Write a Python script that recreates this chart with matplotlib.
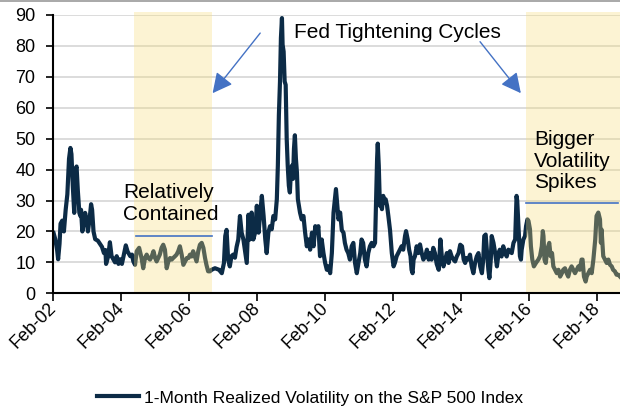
import matplotlib
matplotlib.use("Agg")
import matplotlib.dates as mdates
import matplotlib.pyplot as plt
import pandas as pd
from matplotlib import font_manager
from matplotlib.font_manager import FontProperties
from matplotlib.lines import Line2D


# 1-month realized volatility
DATES = [
    "2002-02-03", "2002-02-21", "2002-03-13", "2002-03-24", "2002-04-08", "2002-04-19",
    "2002-05-07", "2002-05-25", "2002-06-13", "2002-07-01", "2002-07-19", "2002-08-03",
    "2002-08-14", "2002-08-28", "2002-09-13", "2002-09-27", "2002-10-08", "2002-10-22",
    "2002-11-07", "2002-11-18", "2002-11-25", "2002-12-09", "2002-12-20", "2003-01-08",
    "2003-01-22", "2003-02-07", "2003-02-25", "2003-03-13", "2003-03-24", "2003-04-08",
    "2003-04-26", "2003-05-25", "2003-06-16", "2003-07-08", "2003-07-29", "2003-08-14",
    "2003-08-21", "2003-09-13", "2003-10-01", "2003-10-19", "2003-11-07", "2003-11-25",
    "2003-12-13", "2004-01-01", "2004-01-19", "2004-02-07", "2004-02-25", "2004-03-20",
    "2004-04-08", "2004-05-07", "2004-05-25",
    "2004-06-09", "2004-06-27", "2004-07-15", "2004-08-10", "2004-09-05", "2004-09-23",
    "2004-10-12", "2004-10-30", "2004-11-17", "2004-12-05", "2004-12-23", "2005-01-11",
    "2005-01-29", "2005-02-14", "2005-03-03", "2005-03-20", "2005-04-08", "2005-04-26",
    "2005-05-14", "2005-06-02", "2005-06-20", "2005-07-08", "2005-07-26", "2005-08-10",
    "2005-08-28", "2005-09-16", "2005-10-04", "2005-10-22", "2005-11-10", "2005-11-28",
    "2005-12-16", "2006-01-04", "2006-01-22", "2006-02-07", "2006-02-25", "2006-03-13",
    "2006-04-01", "2006-04-19", "2006-05-07", "2006-05-25", "2006-06-13", "2006-07-01",
    "2006-07-19", "2006-08-03", "2006-08-21", "2006-09-09", "2006-09-27", "2006-11-03",
    "2006-12-16", "2007-01-15", "2007-02-07", "2007-02-21", "2007-03-07", "2007-03-24",
    "2007-04-11", "2007-04-29", "2007-05-17", "2007-06-05", "2007-06-23", "2007-07-11",
    "2007-07-29", "2007-08-16", "2007-09-04", "2007-10-10", "2007-10-28", "2007-11-13",
    "2007-12-01", "2007-12-19", "2008-01-08", "2008-01-26", "2008-02-14", "2008-03-03",
    "2008-03-20", "2008-04-08", "2008-04-26", "2008-05-11", "2008-05-29", "2008-06-16",
    "2008-07-04", "2008-07-22", "2008-08-10", "2008-08-28", "2008-09-08", "2008-09-19",
    "2008-10-01", "2008-10-11", "2008-10-22", "2008-10-29", "2008-11-09", "2008-11-20",
    "2008-12-01", "2008-12-12", "2008-12-23", "2009-01-04", "2009-01-15", "2009-01-26",
    "2009-02-07", "2009-02-18", "2009-02-28", "2009-03-10", "2009-03-21", "2009-04-01",
    "2009-04-11", "2009-04-22", "2009-05-04", "2009-05-22", "2009-06-10", "2009-06-28",
    "2009-07-16", "2009-08-03", "2009-08-21", "2009-09-09", "2009-09-27", "2009-10-15",
    "2009-10-30", "2009-11-17", "2009-12-05", "2009-12-23", "2010-01-11", "2010-01-29",
    "2010-02-16", "2010-03-06", "2010-03-24", "2010-04-11", "2010-04-29", "2010-05-25",
    "2010-06-21", "2010-07-09", "2010-07-27", "2010-08-14", "2010-08-29", "2010-09-16",
    "2010-10-04", "2010-10-22", "2010-11-10", "2010-11-28", "2010-12-16", "2011-01-04",
    "2011-01-22", "2011-02-10", "2011-02-24", "2011-03-13", "2011-04-01", "2011-04-19",
    "2011-05-07", "2011-05-25", "2011-06-13", "2011-07-01", "2011-07-19", "2011-07-29",
    "2011-08-10", "2011-08-17", "2011-08-28", "2011-09-09", "2011-09-20", "2011-10-01",
    "2011-10-15", "2011-10-26", "2011-11-10", "2011-11-25", "2011-12-09", "2011-12-27",
    "2012-01-15", "2012-02-03", "2012-02-17", "2012-03-07", "2012-03-24", "2012-04-11",
    "2012-04-29", "2012-05-17", "2012-06-05", "2012-06-16", "2012-07-04", "2012-07-19",
    "2012-08-03", "2012-08-14", "2012-08-25", "2012-09-05", "2012-09-20", "2012-10-08",
    "2012-10-26", "2012-11-13", "2012-12-01", "2012-12-19", "2013-01-08", "2013-01-26",
    "2013-02-14", "2013-02-28", "2013-03-17", "2013-04-04", "2013-04-22", "2013-05-11",
    "2013-06-02", "2013-06-20", "2013-07-05", "2013-07-23", "2013-08-10", "2013-08-28",
    "2013-09-16", "2013-10-01", "2013-10-19", "2013-11-07", "2013-11-25", "2013-12-13",
    "2014-01-01", "2014-01-19", "2014-02-07", "2014-02-25", "2014-03-13", "2014-03-28",
    "2014-04-15", "2014-05-04", "2014-05-22", "2014-06-09", "2014-06-27", "2014-07-15",
    "2014-08-03", "2014-08-21", "2014-09-09", "2014-09-23", "2014-10-04", "2014-10-19",
    "2014-10-29", "2014-11-17", "2014-11-28", "2014-12-13", "2014-12-23", "2015-01-11",
    "2015-01-29", "2015-02-17", "2015-03-07", "2015-03-20", "2015-04-08", "2015-04-26",
    "2015-05-14", "2015-06-02", "2015-06-20", "2015-07-08", "2015-07-26", "2015-08-14",
    "2015-09-01", "2015-09-16", "2015-09-23", "2015-10-01", "2015-10-12", "2015-10-22",
    "2015-11-02", "2015-11-10", "2015-11-28", "2015-12-16", "2015-12-27", "2016-01-11",
    "2016-01-22", "2016-02-07", "2016-02-17", "2016-03-03", "2016-03-20", "2016-04-11",
    "2016-05-07", "2016-05-25", "2016-06-13", "2016-06-24", "2016-07-01", "2016-07-12",
    "2016-07-26", "2016-08-10", "2016-09-01", "2016-09-16", "2016-10-01", "2016-10-15",
    "2016-11-03", "2016-11-21", "2016-12-09", "2016-12-27", "2017-01-15", "2017-01-29",
    "2017-02-17", "2017-03-07", "2017-03-24", "2017-04-11", "2017-04-29", "2017-05-17",
    "2017-06-05", "2017-06-23", "2017-07-11", "2017-07-26", "2017-08-14", "2017-08-25",
    "2017-09-09", "2017-09-27", "2017-10-08", "2017-10-26", "2017-11-13", "2017-12-01",
    "2017-12-19", "2018-01-08", "2018-01-22", "2018-02-10", "2018-02-28", "2018-03-10",
    "2018-03-17", "2018-04-04", "2018-04-22", "2018-05-11", "2018-05-29", "2018-06-16",
    "2018-07-04", "2018-07-19", "2018-08-07", "2018-08-25", "2018-09-13", "2018-10-01",
]
VOL = [
    19.5, 17.5, 14.0, 11.0, 16.0, 22.5,
    23.5, 20.0, 27.0, 32.0, 43.5, 47.0,
    45.0, 35.0, 26.0, 40.0, 41.0, 33.0,
    26.0, 25.0, 27.0, 20.0, 22.0, 26.0,
    24.0, 20.0, 24.0, 28.8, 27.0, 20.0,
    17.5, 17.0, 16.0, 15.0, 13.0, 14.0,
    9.5, 12.0, 16.5, 12.0, 11.0, 10.0,
    12.0, 9.5, 11.0, 9.5, 12.0, 15.5,
    13.5, 12.0, 12.5,
    10.3, 9.2, 13.6, 14.7, 11.4, 8.1,
    11.4, 12.5, 11.4, 10.9, 11.9, 13.6,
    11.4, 10.3, 11.4, 12.5, 14.7, 15.7,
    14.1, 8.1, 10.3, 11.4, 10.9, 11.4,
    11.9, 12.5, 13.6, 15.2, 12.5, 9.2,
    10.3, 11.4, 11.4, 12.5, 11.9, 13.6,
    11.9, 10.3, 13.6, 15.7, 16.3, 14.7,
    11.4, 9.2, 7.1, 7.1, 7.6, 8.1,
    7.6, 6.5, 9.8, 18.5, 20.5, 10.9,
    8.7, 12.0, 12.5, 11.5, 15.0, 17.4,
    25.0, 19.6, 17.4, 9.8, 25.4, 17.4,
    26.1, 17.4, 19.6, 28.3, 19.6, 26.1,
    31.5, 25.0, 17.4, 13.0, 19.6, 21.7,
    20.7, 25.0, 23.9, 30.4, 41.3, 57.6,
    68.5, 82.6, 89.0, 80.4, 78.2, 68.5,
    67.4, 50.0, 41.3, 34.8, 32.6, 39.1,
    41.3, 37.0, 46.7, 51.1, 43.5, 39.1,
    30.4, 28.3, 26.1, 23.9, 25.0, 19.6,
    15.2, 17.4, 14.1, 19.6, 15.2, 21.7,
    19.6, 21.7, 12.0, 17.4, 13.0, 9.8,
    7.6, 8.7, 6.5, 13.0, 26.1, 33.7,
    23.9, 26.1, 20.4, 19.6, 16.3, 14.1,
    13.0, 10.9, 15.2, 16.3, 9.8, 6.5,
    9.8, 13.0, 17.4, 16.3, 10.9, 8.7,
    13.0, 15.2, 16.3, 15.2, 16.3, 29.3,
    43.5, 48.4, 41.3, 28.3, 29.3, 27.2,
    31.5, 29.3, 30.4, 28.3, 25.0, 20.4,
    13.0, 8.7, 9.8, 12.0, 13.0, 14.1,
    15.2, 14.1, 18.5, 20.1, 17.4, 14.1,
    12.0, 7.6, 6.5, 10.9, 12.0, 15.2,
    13.0, 15.8, 13.0, 10.9, 12.0, 14.1,
    10.9, 13.0, 10.9, 14.7, 13.0, 9.5,
    7.6, 17.4, 11.9, 8.7, 10.9, 13.0,
    9.8, 13.6, 11.9, 10.9, 10.3, 11.9,
    13.0, 15.7, 15.2, 10.9, 9.8, 11.4,
    10.9, 12.5, 8.7, 6.5, 9.8, 11.9,
    13.0, 8.7, 6.5, 10.9, 18.5, 19.0,
    15.2, 7.6, 4.9, 10.9, 18.5, 16.3,
    13.0, 8.7, 13.0, 14.1, 11.9, 15.2,
    13.0, 11.9, 14.1, 13.6, 13.0, 16.3,
    17.4, 31.5, 30.0, 25.0, 17.4, 12.0,
    10.9, 14.1, 17.4, 18.5, 21.7, 23.9,
    23.4, 20.7, 15.2, 10.9, 8.7, 9.8,
    10.9, 12.0, 15.2, 20.1, 18.5, 10.9,
    9.8, 14.1, 16.3, 12.0, 13.0, 8.7,
    7.6, 6.5, 7.6, 5.4, 6.5, 7.6,
    8.1, 6.5, 5.4, 7.6, 8.7, 7.6,
    6.5, 7.6, 8.7, 7.6, 10.9, 10.9,
    5.4, 3.8, 5.4, 6.5, 7.6, 6.5,
    10.9, 17.4, 25.0, 26.1, 23.9, 16.3,
    20.6, 12.0, 10.9, 9.8, 10.9, 9.2,
    8.7, 7.6, 7.1, 6.0, 6.0, 5.4,
]

FED_CYCLES = [("2004-06-17", "2006-09-29"), ("2015-12-31", "2018-10-01")]
# reference levels drawn inside each cycle
LEVELS = [("2004-07-05", "2006-09-29", 18.5), ("2015-12-30", "2018-09-12", 29.3)]

X_START, X_END = "2002-02-01", "2018-10-01"
TICK_YEARS = list(range(2002, 2019, 2))

NAVY = "#0c2b46"
SHADE = "#f8dc78"
BLUE = "#4472c4"
LEGEND_LABEL = "1-Month Realized Volatility on the S&P 500 Index"


def main() -> None:
    available = {f.name for f in font_manager.fontManager.ttflist}
    plt.rcParams["font.family"] = ["Liberation Sans", "DejaVu Sans"]
    if "Liberation Sans Narrow" in available:
        legend_font = FontProperties(family="Liberation Sans Narrow", size=15)
    else:
        legend_font = FontProperties(family="Liberation Sans", size=12.5)

    dates = pd.to_datetime(DATES)

    fig = plt.figure(figsize=(6.2, 4.15), dpi=100)
    ax = fig.add_axes([0.0861, 0.2933, 0.9139, 0.6706])

    ax.plot(dates, VOL, color=NAVY, lw=3.0, solid_joinstyle="round", zorder=3)

    for start, end in FED_CYCLES:
        span = ax.axvspan(pd.Timestamp(start), pd.Timestamp(end), ymin=0, ymax=1.011,
                          color=SHADE, alpha=0.32, lw=0, zorder=4)
        span.set_clip_on(False)

    for start, end, level in LEVELS:
        ax.plot([pd.Timestamp(start), pd.Timestamp(end)], [level, level],
                color=BLUE, lw=1.2, zorder=5)

    ax.set_xlim(pd.Timestamp(X_START), pd.Timestamp(X_END))
    ax.set_ylim(0, 90)
    ax.set_yticks(range(0, 91, 10))
    ax.set_xticks([pd.Timestamp(f"{y}-02-01") for y in TICK_YEARS])
    ax.xaxis.set_major_formatter(mdates.DateFormatter("%b-%y"))

    ax.yaxis.grid(True, color="#d9d9d9", lw=1.3)
    ax.set_axisbelow(True)
    for side in ("top", "right"):
        ax.spines[side].set_visible(False)
    for side in ("left", "bottom"):
        ax.spines[side].set_linewidth(1.5)
        ax.spines[side].set_zorder(6)

    ax.tick_params(axis="y", direction="out", length=5, width=1.2, pad=8, labelsize=13)
    ax.tick_params(axis="x", direction="out", length=6, width=1.2, pad=3, labelsize=13)
    for label in ax.get_xticklabels():
        label.set_rotation(45)
        label.set_ha("right")
        label.set_va("center")
        label.set_rotation_mode("anchor")

    # annotations (multi-line texts are anchored on their last baseline)
    ax.text(0.424, 0.916, "Fed Tightening Cycles", transform=ax.transAxes,
            fontsize=15, va="baseline", ha="left", zorder=7)
    ax.text(0.123, 0.263, "Relatively\nContained", transform=ax.transAxes,
            fontsize=15, va="baseline", ha="left", linespacing=1.18, zorder=7)
    ax.text(0.848, 0.377, "Bigger\nVolatility\nSpikes", transform=ax.transAxes,
            fontsize=15, va="baseline", ha="left", linespacing=1.18, zorder=7)

    arrow = dict(arrowstyle="-|>,head_length=0.55,head_width=0.28", color=BLUE,
                 lw=1.0, mutation_scale=22, shrinkA=0, shrinkB=0)
    ax.annotate("", xy=(0.281, 0.719), xytext=(0.365, 0.935),
                xycoords="axes fraction", textcoords="axes fraction",
                arrowprops=arrow, zorder=7)
    ax.annotate("", xy=(0.825, 0.719), xytext=(0.753, 0.904),
                xycoords="axes fraction", textcoords="axes fraction",
                arrowprops=arrow, zorder=7)

    handle = Line2D([], [], color=NAVY, lw=3)
    fig.legend(handles=[handle], labels=[LEGEND_LABEL], loc="center",
               bbox_to_anchor=(0.5, 0.041), frameon=False, prop=legend_font,
               handlelength=2.45, handletextpad=0.3)

    # thin grey border line along the top edge
    fig.add_artist(Line2D([0, 1], [1 - 1.5 / 415] * 2, transform=fig.transFigure,
                          color="#9a9a9a", lw=1.2))

    fig.savefig("out.png", dpi=100)
    plt.close(fig)


if __name__ == "__main__":
    main()
